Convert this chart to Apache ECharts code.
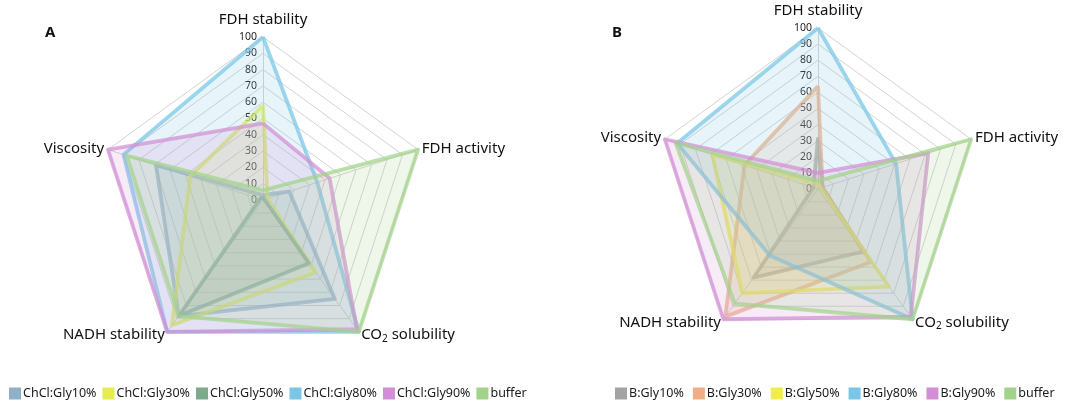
<!DOCTYPE html>
<html><head><meta charset="utf-8">
<script src="https://cdn.jsdelivr.net/npm/echarts@6/dist/echarts.min.js"></script>
<style>html,body{margin:0;padding:0;background:#fff}#c{width:1065px;height:403px}</style>
</head><body><div id="c"></div>
<script>
// Axis order as ECharts lays them out (counter-clockwise from the top)
const axisNames = ['FDH stability', 'Viscosity', 'NADH stability', 'CO2 solubility', 'FDH activity'];
const tickLabels = ['0','10','20','30','40','50','60','70','80','90','100'];

const namesA = ['ChCl:Gly10%', 'ChCl:Gly30%', 'ChCl:Gly50%', 'ChCl:Gly80%', 'ChCl:Gly90%', 'buffer'];
const namesB = ['B:Gly10%', 'B:Gly30%', 'B:Gly50%', 'B:Gly80%', 'B:Gly90%', 'buffer'];

// Panel A values, in axisNames order
const aGly10  = [3, 69, 88, 75, 17];
const aGly30  = [58, 47, 95, 55, 3];
const aGly50  = [2, 2, 88, 48, 1];
const aGly80  = [100, 90, 100, 100, 35];
const aGly90  = [47, 100, 100, 98, 43];
const aBuffer = [6, 88, 88, 100, 100];

// Panel B values, in axisNames order
const bGly10  = [32, 3, 68, 48, 3];
const bGly30  = [64, 48, 98, 56, 3];
const bGly50  = [3, 69, 80, 75, 2];
const bGly80  = [100, 92, 51, 100, 51];
const bGly90  = [10, 100, 100, 98, 72];
const bBuffer = [5, 93, 88, 100, 100];

const colorsA = ['#8fb0c6', '#e4ee4e', '#7fa98c', '#79c6e6', '#d28fd6', '#a3d28a'];
const colorsB = ['#a3a3a3', '#f0ae86', '#f2ee48', '#79c6e6', '#d28fd6', '#a3d28a'];

const valuesA = [aGly10, aGly30, aGly50, aGly80, aGly90, aBuffer];
const valuesB = [bGly10, bGly30, bGly50, bGly80, bGly90, bBuffer];

const FONT = 'Noto Sans';

function makeRadar(center, radius) {
  return {
    center: center, radius: radius, startAngle: 90, splitNumber: 10, shape: 'polygon',
    indicator: axisNames.map((n, i) => {
      const o = { name: n, min: 0, max: 100 };
      if (i === 0) o.axisLabel = { show: true, fontSize: 10.5, color: '#222', fontFamily: FONT, margin: 6,
                                   formatter: v => tickLabels[Math.round(v / 10)] };
      return o;
    }),
    axisName: {
      color: '#111', fontSize: 15, fontFamily: FONT,
      formatter: n => n === 'CO2 solubility' ? 'CO{sub|2} solubility'
                    : (n === 'FDH stability' ? '{top|FDH stability}' : n),
      rich: {
        sub: { fontSize: 10, verticalAlign: 'bottom', padding: [8, 0, 0, 0], color: '#111', fontFamily: FONT },
        top: { fontSize: 15, color: '#111', fontFamily: FONT, padding: [0, 0, 6, 0] }
      }
    },
    nameGap: 4,
    axisLine: { lineStyle: { color: '#d4d4d4', width: 1 } },
    splitLine: { lineStyle: { color: '#d4d4d4', width: 1 } },
    splitArea: { show: false },
    axisTick: { show: false },
    axisLabel: { show: false }
  };
}

function makeSeries(names, values, colors, radarIndex) {
  return names.map((n, i) => ({
    type: 'radar', name: n, radarIndex: radarIndex, symbol: 'none', silent: true,
    z: 2 + i,
    lineStyle: { color: colors[i], width: 3.8, opacity: 0.72 },
    areaStyle: { color: colors[i], opacity: 0.18 },
    itemStyle: { color: colors[i] },
    data: [{ value: values[i], name: n }]
  }));
}

const chart = echarts.init(document.getElementById('c'), null, { renderer: 'canvas' });
chart.setOption({
  backgroundColor: '#fff',
  animation: false,
  textStyle: { fontFamily: FONT },
  title: [
    { text: 'A', left: 40, top: 20, textStyle: { fontSize: 15, fontWeight: 'bold', color: '#111', fontFamily: FONT } },
    { text: 'B', left: 607, top: 20, textStyle: { fontSize: 15, fontWeight: 'bold', color: '#111', fontFamily: FONT } }
  ],
  legend: [
    { data: namesA, left: 4, top: 382, itemWidth: 12, itemHeight: 12, itemGap: 6, icon: 'rect',
      textStyle: { fontSize: 12.5, color: '#1a1a1a', fontFamily: FONT, padding: [0, 0, 0, -3] }, selectedMode: false },
    { data: namesB, left: 610, top: 382, itemWidth: 12, itemHeight: 12, itemGap: 9, icon: 'rect',
      textStyle: { fontSize: 12.5, color: '#1a1a1a', fontFamily: FONT, padding: [0, 0, 0, -3] }, selectedMode: false }
  ],
  radar: [makeRadar([263, 200], 163), makeRadar([818, 189], 161)],
  series: [].concat(makeSeries(namesA, valuesA, colorsA, 0), makeSeries(namesB, valuesB, colorsB, 1))
});
</script></body></html>
